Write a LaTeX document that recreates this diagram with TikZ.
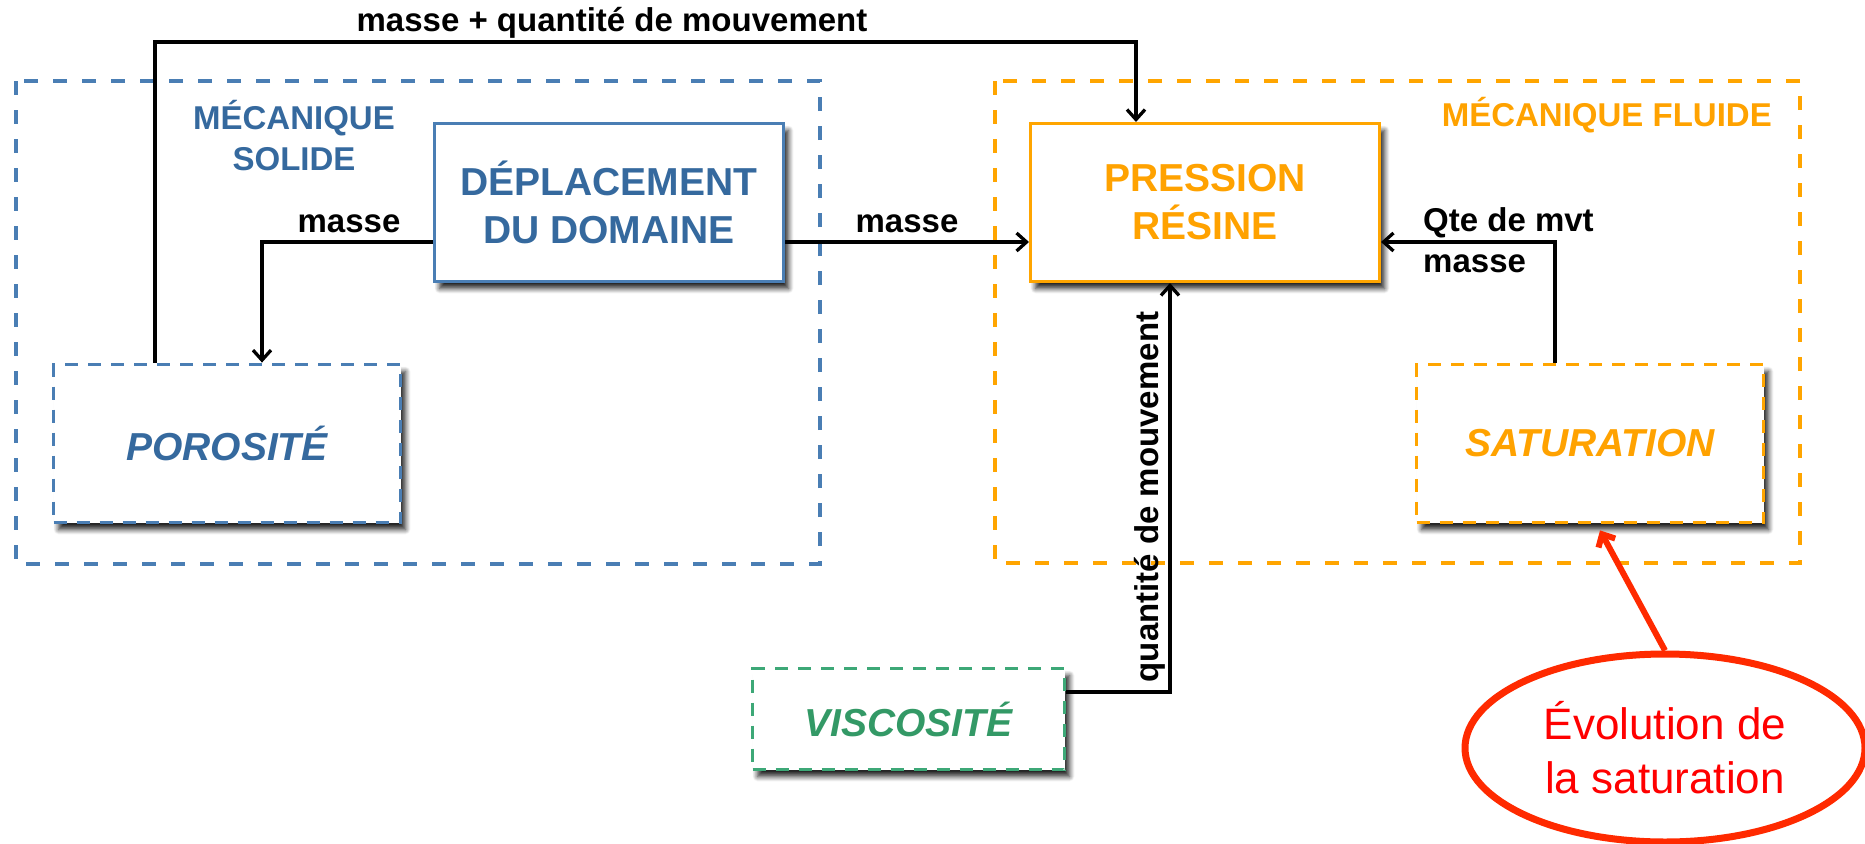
\documentclass[tikz,border=0pt]{standalone}
\usepackage{fontspec}
\setmainfont{Liberation Sans}
\usetikzlibrary{arrows.meta,shadows.blur,shapes.geometric,calc}
\definecolor{bluebd}{HTML}{4A7EB4}
\definecolor{bluetx}{HTML}{35699E}
\definecolor{orng}{HTML}{FFA500}
\definecolor{orngtx}{HTML}{FFA200}
\definecolor{grn}{HTML}{3DA877}
\definecolor{grntx}{HTML}{339966}
\definecolor{redl}{HTML}{FF2A00}
\definecolor{redtx}{HTML}{FF0000}
\begin{document}
\begin{tikzpicture}[x=1pt,y=-1pt,
  conn/.style={line width=3.3pt, black, line join=miter},
  tipped/.style={-{Straight Barb[length=10pt,width=18pt]}},
  shad/.style={blur shadow={shadow xshift=5pt, shadow yshift=-7pt, shadow blur radius=5pt, shadow blur steps=8, shadow opacity=85}},
  solidbox/.style={rectangle, draw, line width=3pt, fill=white, inner sep=0pt, minimum width=349pt, minimum height=158pt, align=center, shad},
  dashbox/.style={rectangle, draw, line width=3.8pt, dash pattern=on 13pt off 10pt, fill=white, inner sep=0pt, align=center, shad},
  container/.style={line width=3.8pt, dash pattern=on 14pt off 15pt},
  bigtxt/.style={font=\fontsize{39}{48}\selectfont\bfseries},
  ittxt/.style={font=\fontsize{39}{48}\selectfont\bfseries\itshape},
  lbl/.style={font=\fontsize{33}{41}\selectfont\bfseries, inner sep=0pt}
]
\useasboundingbox (0,0) rectangle (1865,843);

% containers
\draw[container, bluebd] (16,81) rectangle (820,564);
\draw[container, orng] (995,81) rectangle (1800,563);
\node[lbl, text=bluetx, align=center, anchor=base] (msol) at (294,170) {MÉCANIQUE\\SOLIDE};
\node[lbl, text=orngtx, anchor=base east] (mflu) at (1772,126) {MÉCANIQUE FLUIDE};

% boxes
\node[solidbox, draw=bluebd, text=bluetx, bigtxt] (dep) at (609,202.5) {DÉPLACEMENT\\DU DOMAINE};
\node[solidbox, draw=orng, text=orngtx, bigtxt] (pres) at (1205,202.5) {PRESSION\\RÉSINE};
\node[dashbox, draw=bluebd, text=bluetx, ittxt, minimum width=347pt, minimum height=158pt] (por) at (227,443.5) {POROSITÉ};
\node[dashbox, draw=orng, text=orngtx, ittxt, minimum width=347pt, minimum height=158pt] (sat) at (1590,443.5) {SATURATION};
\node[dashbox, draw=grn, text=grntx, ittxt, minimum width=312pt, minimum height=101pt] (visc) at (908.5,719) {VISCOSITÉ};

% connectors
\coordinate (topL) at (155,42);
\coordinate (topR) at (1136,42);
\draw[conn, tipped] (por.north -| topL) -- (topL) -- (topR) -- (pres.north -| topR);
\node[lbl, anchor=base] (lmq) at (612,32) {masse + quantité de mouvement};

\coordinate (mL) at (262,242);
\draw[conn, tipped] (dep.west |- mL) -- (mL) -- (por.north -| mL);
\node[lbl, anchor=base] (lm1) at (349,232) {masse};

\draw[conn, tipped] (dep.east |- mL) -- (pres.west |- mL);
\node[lbl, anchor=base] (lm2) at (907,232) {masse};

\coordinate (sR) at (1555,242);
\draw[conn, tipped] (sat.north -| sR) -- (sR) -- (pres.east |- sR);
\node[lbl, anchor=base west] (lq) at (1423,231) {Qte de mvt};
\node[lbl, anchor=base west] (lm3) at (1423,272) {masse};

\coordinate (vC) at (1170,692);
\draw[conn, tipped] (visc.east |- vC) -- (vC) -- (pres.south -| vC);
\node[lbl, rotate=90, anchor=south, inner sep=1.5pt] (lqm) at (1167,497) {quantité de mouvement};

% red callout
\node[ellipse, draw=redl, line width=7pt, minimum width=400pt, minimum height=188pt, inner sep=0pt, align=center, text=redtx, font=\fontsize{44}{54}\selectfont] (ell) at (1665,748) {Évolution de\\la saturation};
\draw[redl, line width=6pt, -{Straight Barb[length=10pt,width=19pt]}] (ell.north) -- ([xshift=10pt,yshift=-6pt]sat.south);
\end{tikzpicture}
\end{document}
